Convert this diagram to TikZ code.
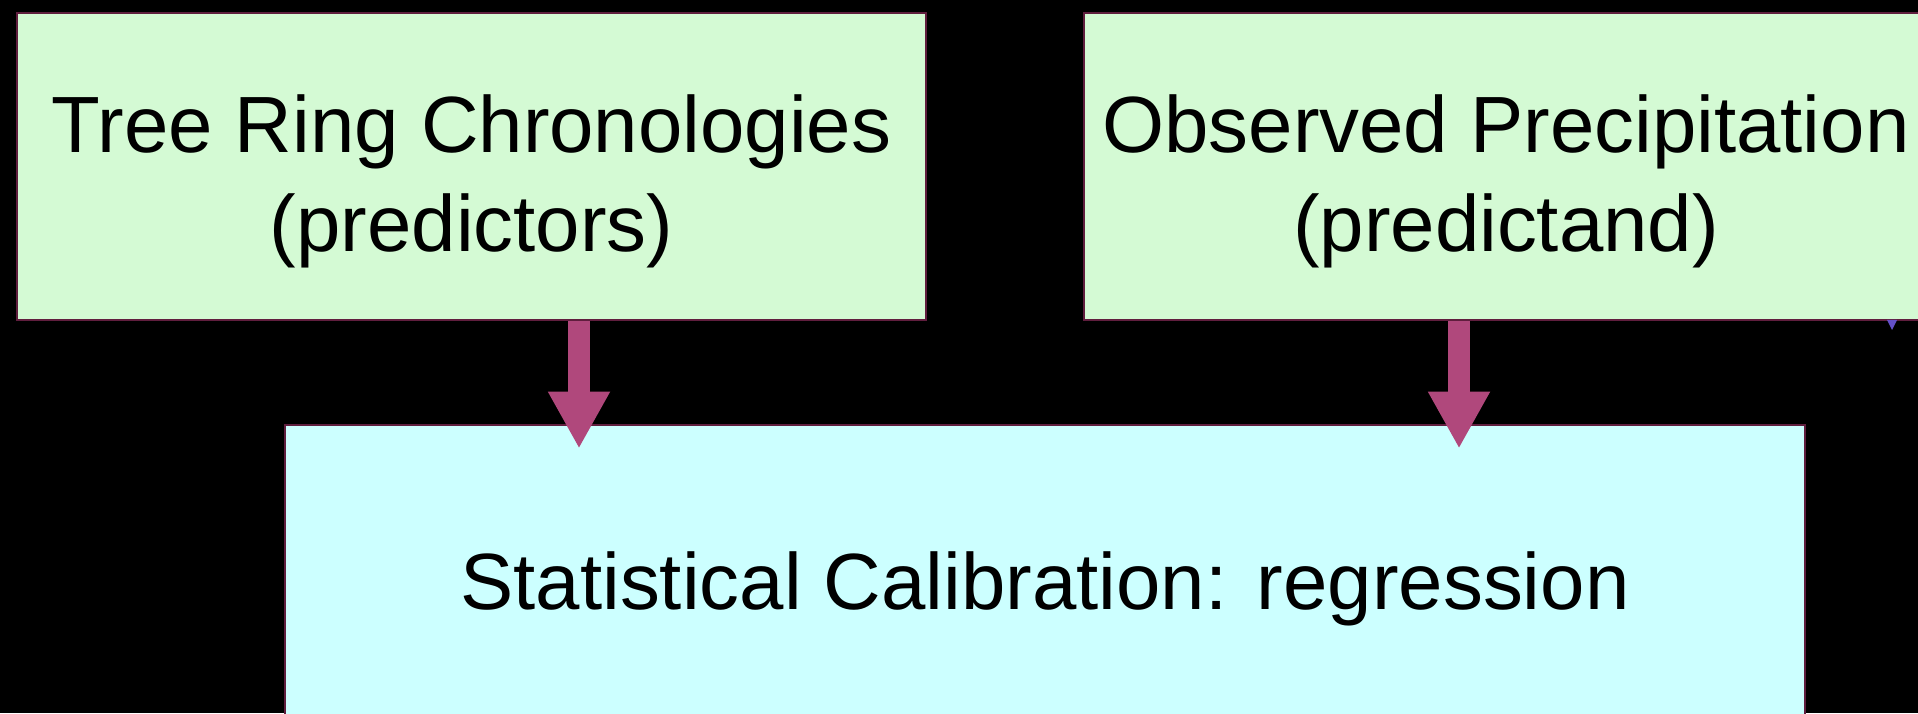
\documentclass[tikz,border=0pt]{standalone}
\usepackage{fontspec}
\setmainfont{Liberation Sans}
\usepackage{tikz}
\usetikzlibrary{arrows.meta, positioning}
\definecolor{boxgreen}{RGB}{212, 250, 212}
\definecolor{boxcyan}{RGB}{204, 255, 255}
\definecolor{boxline}{RGB}{96, 30, 62}
\definecolor{flowpink}{RGB}{176, 72, 124}
\definecolor{tippurple}{RGB}{100, 80, 200}

\begin{document}
\begin{tikzpicture}[
    inbox/.style={rectangle, draw=boxline, line width=0.8pt, fill=boxgreen,
                  minimum height=3.07cm, inner sep=0pt},
    calbox/.style={inbox, fill=boxcyan, minimum width=15.2cm, minimum height=3.04cm},
    boxtext/.style={align=center, inner sep=0pt,
                    font=\fontsize{22.7}{28}\selectfont},
    flow/.style={draw=flowpink, line width=0.22cm,
                 -{Triangle[width=0.58cm, length=0.57cm]}, flowpink}
]
    \fill[black] (0,0) rectangle (19.18,7.13);
    \useasboundingbox (0,0) rectangle (19.18,7.13);
    \clip (0,0) rectangle (19.18,7.13);

    \node[inbox, minimum width=9.09cm] (rings) at (4.715,5.465) {};
    \node[inbox, minimum width=8.44cm] (precip) at (15.06,5.465) {};
    \node[calbox] (calib) at (10.45,1.36) {};

    \node[boxtext] (ringstxt) at ([yshift=-0.15cm]rings.center)
        {Tree Ring Chronologies\\(predictors)};
    \node[boxtext] (preciptxt) at ([yshift=-0.15cm]precip.center)
        {Observed Precipitation\\(predictand)};
    \node[boxtext] (calibtxt) at ([yshift=-0.12cm]calib.center)
        {Statistical Calibration: regression};

    % inputs into the regression
    \coordinate (in1) at (5.79,0);
    \coordinate (in2) at (14.59,0);
    \draw[flow, shorten >=-0.25cm] (rings.south -| in1) -- (calib.north -| in1);
    \draw[flow, shorten >=-0.25cm] (precip.south -| in2) -- (calib.north -| in2);

    % stray tip at the right edge
    \fill[tippurple] (18.87,3.93) -- (18.97,3.93) -- (18.92,3.83) -- cycle;
\end{tikzpicture}
\end{document}
